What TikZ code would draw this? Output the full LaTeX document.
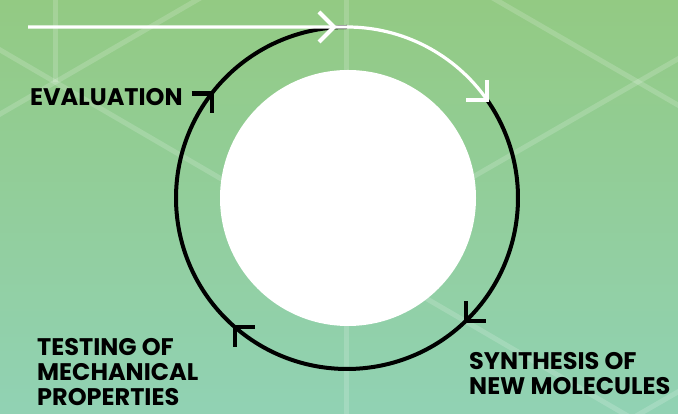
\documentclass[tikz,border=0pt]{standalone}
\usepackage{fontspec}
\setmainfont{Poppins}
\usetikzlibrary{calc}
\definecolor{bgtop}{RGB}{147,202,131}
\definecolor{bgbot}{RGB}{145,210,180}
\begin{document}
\begin{tikzpicture}[x=1pt,y=1pt,
  gridline/.style={white, opacity=0.17, line width=5pt},
  cyc/.style={black, line width=4pt},
  wcyc/.style={white, line width=3.2pt},
  bhead/.style={black, line width=4.4pt, line join=miter, line cap=butt},
  whead/.style={white, line width=4pt, line join=miter, line cap=butt},
  lbl/.style={font=\bfseries\fontsize{24}{25}\selectfont, inner sep=0pt, align=left, text=black}]
\useasboundingbox (0,0) rectangle (678,414);
\shade[top color=bgtop, bottom color=bgbot] (0,0) rectangle (678,414);
\begin{scope}
\clip (0,0) rectangle (678,414);
\draw[gridline] (55,420) -- (55,332);
\draw[gridline] (346,420) -- (346,-6);
\draw[gridline] (-5,367) -- (633,-5);
\draw[gridline] (-5,297) -- (202,417);
\draw[gridline] (491,417) -- (683,306);
\draw[gridline] (683,358) -- (346,164);
\draw[gridline] (636,-2) -- (683,25);
\end{scope}
\coordinate (C) at (347,216);
\node (core) [circle, fill=white, minimum size=256pt, inner sep=0pt] at (348,216) {};
\coordinate (p1) at ($(C)+(35:171)$);
\coordinate (p2) at ($(C)+(-46:171)$);
\coordinate (p3) at ($(C)+(-131:171)$);
\coordinate (p4) at ($(C)+(-217.7:171)$);
\coordinate (top) at ($(C)+(90:171)$);
% black cycle
\draw[cyc] (p1) arc[start angle=35, end angle=-46, radius=171];
\draw[cyc] (p2) arc[start angle=-46, end angle=-131, radius=171];
\draw[cyc] (p3) arc[start angle=-131, end angle=-217.7, radius=171];
\draw[cyc] (p4) arc[start angle=-217.7, end angle=-270, radius=171];
\draw[bhead] ($(p2)+(0,20)$) -- (p2) -- ($(p2)+(20,0)$);
\draw[bhead] ($(p3)+(20,0)$) -- (p3) -- ($(p3)+(0,-20)$);
\draw[bhead] ($(p4)+(-20,0)$) -- (p4) -- ($(p4)+(0,-20)$);
% white arrow
\coordinate (ws) at (28,387);
\coordinate (wm) at (334,387);
\draw[wcyc] (ws) -- (top) arc[start angle=90, end angle=35, radius=171];
\draw[whead] ($(wm)+(-15,15)$) -- (wm) -- ($(wm)+(-15,-15)$);
\draw[whead] ($(p1)+(0,20)$) -- (p1) -- ($(p1)+(-21,0)$);
\node[lbl, anchor=base west] (eval) at (30,308) {EVALUATION};
\node[lbl, anchor=north west] (test) at (37,76) {TESTING OF\\MECHANICAL\\PROPERTIES};
\node[lbl, anchor=north west] (synth) at (469,62) {SYNTHESIS OF\\NEW MOLECULES};
\end{tikzpicture}
\end{document}
